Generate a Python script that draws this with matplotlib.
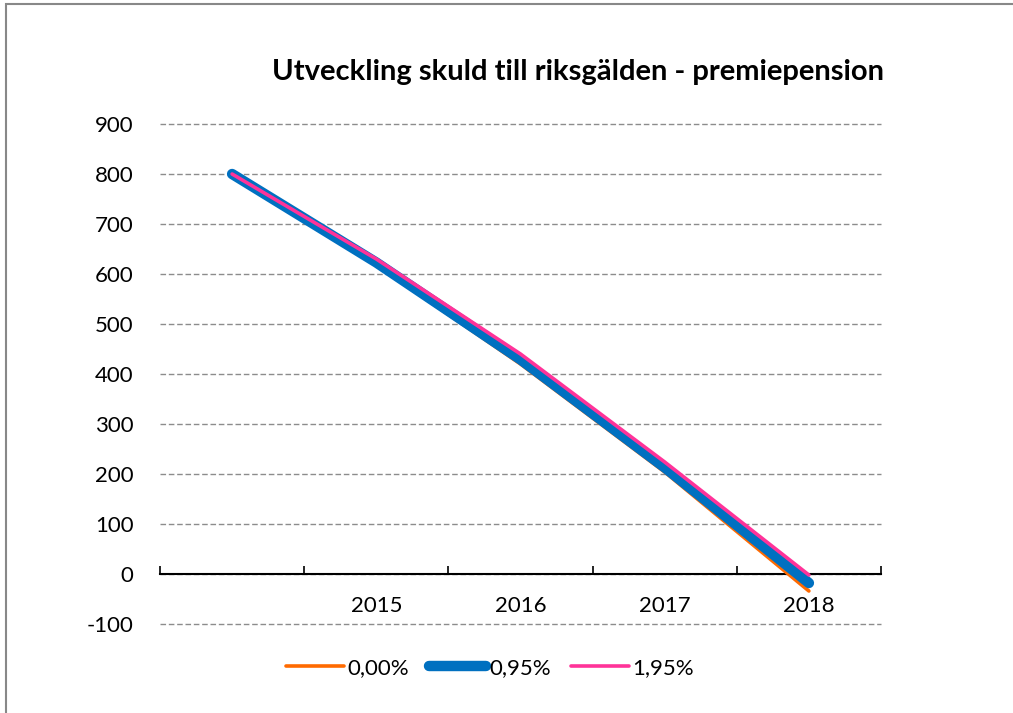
import matplotlib.pyplot as plt
import matplotlib.ticker as ticker
from matplotlib.patches import Rectangle

# data
years = ['', '2015', '2016', '2017', '2018']
rate_000 = [800, 618, 420, 204, -34]
rate_095 = [800, 623, 429, 213, -18]
rate_195 = [800, 630, 440, 224, -2]
series_labels = ['0,00%', '0,95%', '1,95%']

plt.rcParams['font.family'] = ['Lato', 'DejaVu Sans']
plt.rcParams['axes.unicode_minus'] = False

fig = plt.figure(figsize=(10.13, 7.13), dpi=100)
ax = fig.add_axes([160 / 1013, 1 - 624 / 713, 721 / 1013, 500 / 713])

x = list(range(len(years)))
l1, = ax.plot(x, rate_000, color='#FF6A00', lw=2.6, solid_capstyle='round', zorder=3)
l2, = ax.plot(x, rate_095, color='#0070C0', lw=7.5, solid_capstyle='round', zorder=4)
l3, = ax.plot(x, rate_195, color='#FF3399', lw=2.6, solid_capstyle='round', zorder=5)

ax.set_xlim(-0.5, len(years) - 0.5)
ax.set_ylim(-100, 900)
ax.yaxis.set_major_locator(ticker.MultipleLocator(100))

# dashed gridlines
ax.grid(axis='y', linestyle=(0, (4, 2)), color='#8c8c8c', linewidth=1.0)
ax.set_axisbelow(True)
for gl in ax.get_ygridlines():
    gl.set_clip_on(False)

for s in ['top', 'right', 'left']:
    ax.spines[s].set_visible(False)
ax.spines['bottom'].set_position(('data', 0))
ax.spines['bottom'].set_linewidth(1.5)

# category boundary ticks, labels at centres
ax.xaxis.set_major_locator(ticker.FixedLocator([i - 0.5 for i in range(len(years) + 1)]))
ax.xaxis.set_major_formatter(ticker.NullFormatter())
ax.xaxis.set_minor_locator(ticker.FixedLocator(x))
ax.xaxis.set_minor_formatter(ticker.FixedFormatter(years))
ax.tick_params(axis='x', which='major', direction='in', length=6, width=1.2)
ax.tick_params(axis='x', which='minor', length=0, pad=16, labelsize=16)
ax.tick_params(axis='y', length=0, pad=19, labelsize=16)

fig.text(578 / 1013, 1 - 72 / 713, 'Utveckling skuld till riksgälden - premiepension',
         ha='center', va='center', fontsize=21, fontweight='bold')

fig.legend([l1, l2, l3], series_labels, loc='center', bbox_to_anchor=(490 / 1013, 1 - 668 / 713),
           ncol=3, frameon=False, fontsize=16, handlelength=2.6, handletextpad=0.15,
           columnspacing=0.9)

# outer chart frame
fig.patches.append(Rectangle((6 / 1013, -0.1), 1.2, 1 - 4 / 713 + 0.1, transform=fig.transFigure,
                             fill=False, edgecolor='#888888', linewidth=1.5))

fig.savefig('out.png', dpi=100)
